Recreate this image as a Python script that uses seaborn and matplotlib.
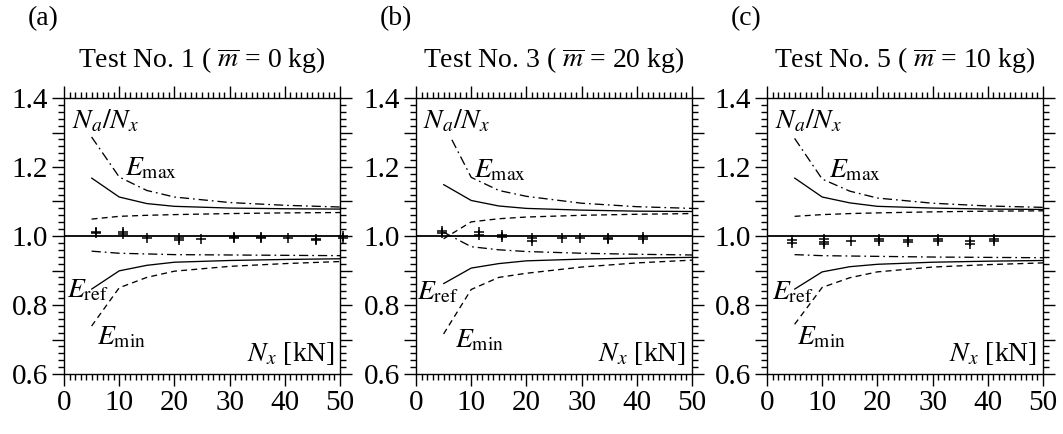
import numpy as np
import matplotlib
matplotlib.use("Agg")
import matplotlib.pyplot as plt
from matplotlib.ticker import MultipleLocator
import seaborn as sns

# ---------------- data ----------------
nx = [5, 10, 15, 20, 30, 40, 50]

# panel (a)  Test No. 1
solid_up_a = [1.168, 1.113, 1.094, 1.086, 1.081, 1.079, 1.078]
dd_up_a = [1.287, 1.171, 1.132, 1.113, 1.097, 1.089, 1.084]
dash_up_a = [1.049, 1.057, 1.060, 1.062, 1.065, 1.067, 1.068]
dd_low_a = [0.956, 0.950, 0.948, 0.946, 0.945, 0.944, 0.943]
solid_low_a = [0.846, 0.899, 0.915, 0.924, 0.929, 0.932, 0.934]
dash_low_a = [0.739, 0.850, 0.880, 0.898, 0.912, 0.920, 0.926]
pts_x_a = [5.8, 5.8, 10.6, 10.6, 15.1, 20.8, 20.8, 24.9, 30.8, 30.8,
           35.7, 35.7, 40.5, 45.7, 45.7, 50.5, 50.5]
pts_y_a = [1.013, 1.009, 1.012, 1.006, 0.995, 0.993, 0.989, 0.991, 0.997, 0.993,
           0.998, 0.994, 0.995, 0.992, 0.988, 0.999, 0.994]

# panel (b)  Test No. 3
nx_dd_b = [6.5, 10, 15, 20, 30, 40, 50]
solid_up_b = [1.149, 1.103, 1.087, 1.080, 1.075, 1.072, 1.071]
dd_up_b = [1.279, 1.170, 1.132, 1.115, 1.095, 1.085, 1.080]
dash_up_b = [0.992, 1.041, 1.050, 1.055, 1.060, 1.063, 1.065]
dd_low_b = [1.011, 0.969, 0.960, 0.955, 0.950, 0.947, 0.945]
solid_low_b = [0.862, 0.907, 0.920, 0.928, 0.933, 0.936, 0.938]
dash_low_b = [0.716, 0.845, 0.880, 0.892, 0.910, 0.922, 0.930]
pts_x_b = [4.65, 4.65, 11.5, 11.5, 15.5, 15.5, 21.1, 21.1, 26.4, 29.8,
           34.8, 34.8, 41.2, 41.2]
pts_y_b = [1.015, 1.008, 1.012, 1.004, 1.002, 0.998, 0.994, 0.986, 0.993, 0.995,
           0.995, 0.991, 0.996, 0.990]

# panel (c)  Test No. 5
solid_up_c = [1.168, 1.113, 1.096, 1.086, 1.081, 1.078, 1.077]
dd_up_c = [1.283, 1.165, 1.130, 1.110, 1.095, 1.087, 1.083]
dash_up_c = [1.057, 1.062, 1.065, 1.067, 1.070, 1.072, 1.073]
dd_low_c = [0.946, 0.943, 0.942, 0.941, 0.939, 0.938, 0.937]
solid_low_c = [0.846, 0.896, 0.911, 0.918, 0.924, 0.927, 0.929]
dash_low_c = [0.744, 0.851, 0.879, 0.896, 0.910, 0.917, 0.922]
pts_x_c = [4.5, 4.5, 10.3, 10.3, 10.3, 15.2, 20.2, 20.2, 25.5, 25.5,
           31.0, 31.0, 36.8, 36.8, 41.2, 41.2]
pts_y_c = [0.988, 0.981, 0.990, 0.984, 0.978, 0.986, 0.991, 0.985, 0.989, 0.983,
           0.992, 0.985, 0.985, 0.978, 0.990, 0.986]

titles = [r"Test No. 1 ( $\overline{m}$ = 0 kg)",
          r"Test No. 3 ( $\overline{m}$ = 20 kg)",
          r"Test No. 5 ( $\overline{m}$ = 10 kg)"]
panel_tags = ["(a)", "(b)", "(c)"]
xticks = [0, 10, 20, 30, 40, 50]
yticks = [0.6, 0.8, 1.0, 1.2, 1.4]

panels = [
    dict(x_dd=nx, su=solid_up_a, ddu=dd_up_a, du=dash_up_a, ddl=dd_low_a,
         sl=solid_low_a, dl=dash_low_a, px=pts_x_a, py=pts_y_a),
    dict(x_dd=nx_dd_b, su=solid_up_b, ddu=dd_up_b, du=dash_up_b, ddl=dd_low_b,
         sl=solid_low_b, dl=dash_low_b, px=pts_x_b, py=pts_y_b),
    dict(x_dd=nx, su=solid_up_c, ddu=dd_up_c, du=dash_up_c, ddl=dd_low_c,
         sl=solid_low_c, dl=dash_low_c, px=pts_x_c, py=pts_y_c),
]

# label positions (data coords, baseline)
label_pos = [
    dict(na=(1.4, 1.311), emax=(11.0, 1.177), eref=(0.5, 0.821), emin=(6.0, 0.687), nxl=(49.1, 0.639)),
    dict(na=(1.3, 1.311), emax=(10.5, 1.170), eref=(0.2, 0.816), emin=(7.1, 0.677), nxl=(49.0, 0.639)),
    dict(na=(1.45, 1.311), emax=(11.3, 1.170), eref=(0.85, 0.816), emin=(5.4, 0.687), nxl=(48.9, 0.639)),
]

# ---------------- style ----------------
sns.set_theme(style="ticks")
plt.rcParams["font.family"] = ["Liberation Serif", "DejaVu Serif"]
plt.rcParams["mathtext.fontset"] = "stix"
plt.rcParams["axes.linewidth"] = 1.0

W, H = 1063, 434
fig = plt.figure(figsize=(W / 100, H / 100), dpi=100)
fig.patch.set_facecolor("white")

lefts = [64, 416, 767]
ax_w, ax_top, ax_bot = 276, 98, 374

FS_TICK = 21
FS_TITLE = 20
FS_LAB = 20

dashdot = (0, (7, 3, 1.3, 3))
dashed = (0, (4.5, 3.2))
lw = 0.95

for i, (p, lp) in enumerate(zip(panels, label_pos)):
    ax = fig.add_axes([lefts[i] / W, (H - ax_bot) / H, ax_w / W, (ax_bot - ax_top) / H])
    ax.set_facecolor("white")

    sns.lineplot(x=nx, y=p["su"], ax=ax, color="black", linewidth=lw, linestyle="-")
    sns.lineplot(x=p["x_dd"], y=p["ddu"], ax=ax, color="black", linewidth=lw, linestyle=dashdot)
    sns.lineplot(x=nx, y=p["du"], ax=ax, color="black", linewidth=lw, linestyle=dashed)
    sns.lineplot(x=nx, y=p["ddl"], ax=ax, color="black", linewidth=lw, linestyle=dashdot)
    sns.lineplot(x=nx, y=p["sl"], ax=ax, color="black", linewidth=lw, linestyle="-")
    sns.lineplot(x=nx, y=p["dl"], ax=ax, color="black", linewidth=lw, linestyle=dashed)
    ax.axhline(1.0, color="black", linewidth=1.3)

    sns.scatterplot(x=p["px"], y=p["py"], ax=ax, marker="+", color="black",
                    s=48, linewidth=1.1, clip_on=False, zorder=4)

    ax.set_xlim(0, 50)
    ax.set_ylim(0.6, 1.4)
    ax.set_xticks(xticks)
    ax.set_xticklabels([str(v) for v in xticks])
    ax.set_yticks([0.6, 0.7, 0.8, 0.9, 1.0, 1.1, 1.2, 1.3, 1.4])
    ax.set_yticklabels(["0.6", "", "0.8", "", "1.0", "", "1.2", "", "1.4"])
    ax.xaxis.set_minor_locator(MultipleLocator(1))
    ax.yaxis.set_minor_locator(MultipleLocator(0.02))
    ax.tick_params(which="both", direction="out", top=True, right=True,
                   bottom=True, left=True, color="black", width=1.0)
    ax.tick_params(which="major", length=8.5, labelsize=FS_TICK, pad=3,
                   labelcolor="black")
    ax.tick_params(which="minor", length=4.3)
    for s in ax.spines.values():
        s.set_visible(True)
        s.set_color("black")
        s.set_linewidth(1.0)
    ax.set_xlabel("")
    ax.set_ylabel("")

    tk = dict(color="black", fontsize=FS_LAB, va="baseline")
    ax.text(*lp["na"], r"$N_a/N_x$", ha="left", **tk)
    ax.text(*lp["emax"], r"$E_\mathrm{max}$", ha="left", **tk)
    ax.text(*lp["eref"], r"$E_\mathrm{ref}$", ha="left", **tk)
    ax.text(*lp["emin"], r"$E_\mathrm{min}$", ha="left", **tk)
    ax.text(*lp["nxl"], r"$N_x$ [kN]", ha="right", **tk)

    ax.text(0.5, 1 + 31 / 276, titles[i], transform=ax.transAxes, ha="center",
            va="baseline", fontsize=FS_TITLE, color="black")
    fig.text((lefts[i] - 36) / W, 1 - 25 / H, panel_tags[i], ha="left",
             va="baseline", fontsize=FS_TITLE, color="black")

fig.savefig("out.png", dpi=100, facecolor="white")
